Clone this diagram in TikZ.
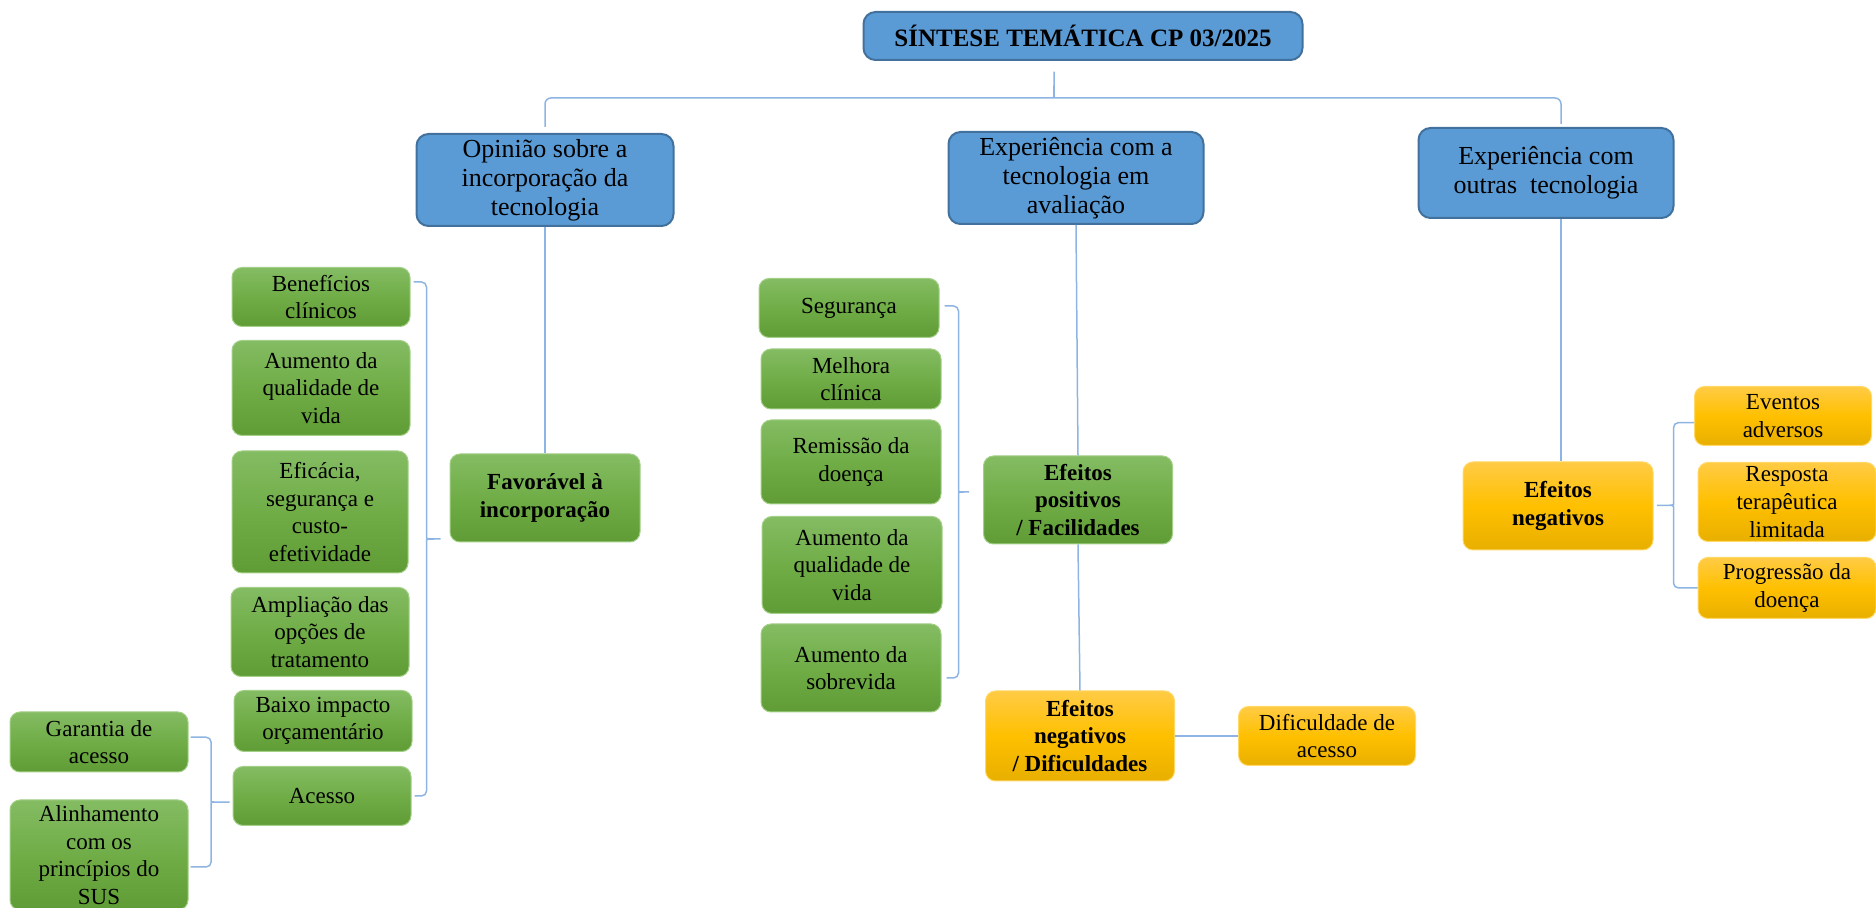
\documentclass[tikz,border=0pt]{standalone}
\usepackage{fontspec}
\setmainfont{Liberation Serif}
\usetikzlibrary{calc}

\definecolor{boxblue}{HTML}{5B9BD5}
\definecolor{edgeblue}{HTML}{41719C}
\definecolor{greentop}{HTML}{84BC63}
\definecolor{greenmid}{HTML}{70AD47}
\definecolor{greenbot}{HTML}{5F9C36}
\definecolor{greenedge}{HTML}{A3CF87}
\definecolor{yeltop}{HTML}{FFCB45}
\definecolor{yelmid}{HTML}{FFC000}
\definecolor{yelbot}{HTML}{E8AF00}
\definecolor{yeledge}{HTML}{FFD866}
\definecolor{linkblue}{HTML}{8DB4E2}

\tikzset{
  bluebox/.style={draw=edgeblue, line width=1pt, fill=boxblue, rounded corners=6pt, align=center, inner sep=1pt, font=\fontsize{13}{14.4}\selectfont},
  greenbox/.style={draw=greenedge, line width=0.5pt, top color=greentop, bottom color=greenbot, middle color=greenmid, rounded corners=5pt, align=center, inner sep=1pt, font=\fontsize{11.5}{13.8}\selectfont},
  yellowbox/.style={draw=yeledge, line width=0.5pt, top color=yeltop, bottom color=yelbot, middle color=yelmid, rounded corners=5pt, align=center, inner sep=1pt, font=\fontsize{11.5}{13.8}\selectfont},
  boldtxt/.style={font=\fontsize{11.5}{13.8}\selectfont\bfseries},
  link/.style={draw=linkblue, line width=0.75pt}
}

% bracket: #1 top end, #2 bottom end, #3 spine offset, #4 tip offset
\newcommand{\sidebrace}[4]{%
  \coordinate (bm) at ($(#1)!.5!(#2 -| #1)$);
  \draw[link,rounded corners=2.5pt] (#1) -- ($(#1)+(#3,0)$) -- ($(bm)+(#3,3pt)$)
    .. controls ($(bm)+(#3,0)$) .. ($(bm)+(#4,0)$)
    .. controls ($(bm)+(#3,0)$) .. ($(bm)+(#3,-3pt)$)
    -- ($(#2 -| #1)+(#3,0)$) -- (#2);}

\begin{document}
\begin{tikzpicture}[x=0.5pt,y=0.5pt]
\useasboundingbox (0,0) rectangle (1876,-908);

% title and themes
\node[bluebox, minimum width=219.5pt, minimum height=24pt, font=\fontsize{12.5}{14}\selectfont\bfseries] (title) at (1083,-36) {SÍNTESE TEMÁTICA CP 03/2025};
\node[bluebox, minimum width=128.5pt, minimum height=46pt] (opin) at (545,-180) {Opinião sobre a\\incorporação da\\tecnologia};
\node[bluebox, minimum width=127.5pt, minimum height=46pt] (aval) at (1076,-178) {Experiência com a\\tecnologia em\\avaliação};
\node[bluebox, minimum width=127.5pt, minimum height=45pt] (outras) at (1546,-173) {Experiência com\\outras~ tecnologia};

% categories
\node[greenbox, boldtxt, minimum width=95pt, minimum height=44pt] (fav) at (545,-498) {Favorável à\\incorporação};
\node[greenbox, boldtxt, minimum width=94.5pt, minimum height=44pt] (efpos) at (1078,-500) {Efeitos\\positivos\\/ Facilidades};
\node[yellowbox, boldtxt, minimum width=95pt, minimum height=44pt] (efnegr) at (1558,-506) {Efeitos\\negativos};
\node[yellowbox, boldtxt, minimum width=94.5pt, minimum height=45pt] (efnegd) at (1080,-736) {Efeitos\\negativos\\/ Dificuldades};
\node[yellowbox, minimum width=88.5pt, minimum height=29.5pt] (dif) at (1327,-736) {Dificuldade de\\acesso};

% favourable
\node[greenbox, minimum width=89pt, minimum height=29.5pt] (benef) at (321,-297) {Benefícios\\clínicos};
\node[greenbox, minimum width=89pt, minimum height=47.5pt] (aumqv) at (321,-388) {Aumento da\\qualidade de\\vida};
\node[greenbox, minimum width=88pt, minimum height=61pt] (efic) at (320,-512) {Eficácia,\\segurança e\\custo-\\efetividade};
\node[greenbox, minimum width=89pt, minimum height=44.5pt] (ampl) at (320,-632) {Ampliação das\\opções de\\tratamento};
\node[greenbox, minimum width=89pt, minimum height=30.5pt] (baixo) at (323,-721) {Baixo impacto\\orçamentário};
\node[greenbox, minimum width=89pt, minimum height=29.5pt] (acesso) at (322,-796) {Acesso};
\node[greenbox, minimum width=89pt, minimum height=30pt] (garant) at (99,-742) {Garantia de\\acesso};
\node[greenbox, minimum width=89pt, minimum height=55pt] (alinh) at (99,-855) {Alinhamento\\com os\\princípios do\\SUS};

% positive effects
\node[greenbox, minimum width=90pt, minimum height=29.5pt] (seg) at (849,-308) {Segurança};
\node[greenbox, minimum width=90pt, minimum height=30pt] (melh) at (851,-379) {Melhora\\clínica};
\node[greenbox, minimum width=90pt, minimum height=42pt] (remis) at (851,-462) {Remissão da\\doença};
\node[greenbox, minimum width=90pt, minimum height=48.5pt] (aumqv2) at (852,-565) {Aumento da\\qualidade de\\vida};
\node[greenbox, minimum width=90pt, minimum height=44pt] (aumsob) at (851,-668) {Aumento da\\sobrevida};

% negative effects
\node[yellowbox, minimum width=88.5pt, minimum height=29.5pt] (event) at (1783,-416) {Eventos\\adversos};
\node[yellowbox, minimum width=89pt, minimum height=39.5pt] (resp) at (1787,-502) {Resposta\\terapêutica\\limitada};
\node[yellowbox, minimum width=89pt, minimum height=30.5pt] (progr) at (1787,-588) {Progressão da\\doença};

% top bracket
\coordinate (tb) at (1054,-98);
\coordinate (tt) at (1054,-68);
\draw[link,rounded corners=3pt] ([yshift=3pt]opin.north) |- ([xshift=-2.5pt]tb)
  .. controls (tb) .. (tt) .. controls (tb) .. ([xshift=2.5pt]tb)
  -| ([xshift=7.5pt,yshift=1.5pt]outras.north);

% straight links
\draw[link] (opin.south) -- (fav.north);
\draw[link] (aval.south) -- (efpos.north);
\draw[link] ([xshift=7.5pt]outras.south) -- ([xshift=1.5pt]efnegr.north);
\draw[link] (efpos.south) -- (efnegd.north);
\draw[link] (efnegd.east) -- (dif.west);

% side brackets
\coordinate (lbA) at ($(benef.east)+(1.5pt,7.5pt)$);
\coordinate (lbB) at ($(acesso.east)+(1.5pt,0)$);
\sidebrace{lbA}{lbB}{6.5pt}{15pt}
\coordinate (flA) at ($(garant.east)+(1pt,2.4pt)$);
\coordinate (flB) at ($(alinh.east)+(1pt,-6pt)$);
\sidebrace{flA}{flB}{10.3pt}{21pt}
\coordinate (mbA) at ($(seg.east)+(2.5pt,1pt)$);
\coordinate (mbB) at ($(aumsob.east)+(2.5pt,-5pt)$);
\sidebrace{mbA}{mbB}{7pt}{13.75pt}
\coordinate (rbA) at ($(event.west)+(0,-3.3pt)$);
\coordinate (rbB) at (progr.west);
\sidebrace{rbA}{rbB}{-10.25pt}{-20pt}
\end{tikzpicture}
\end{document}
